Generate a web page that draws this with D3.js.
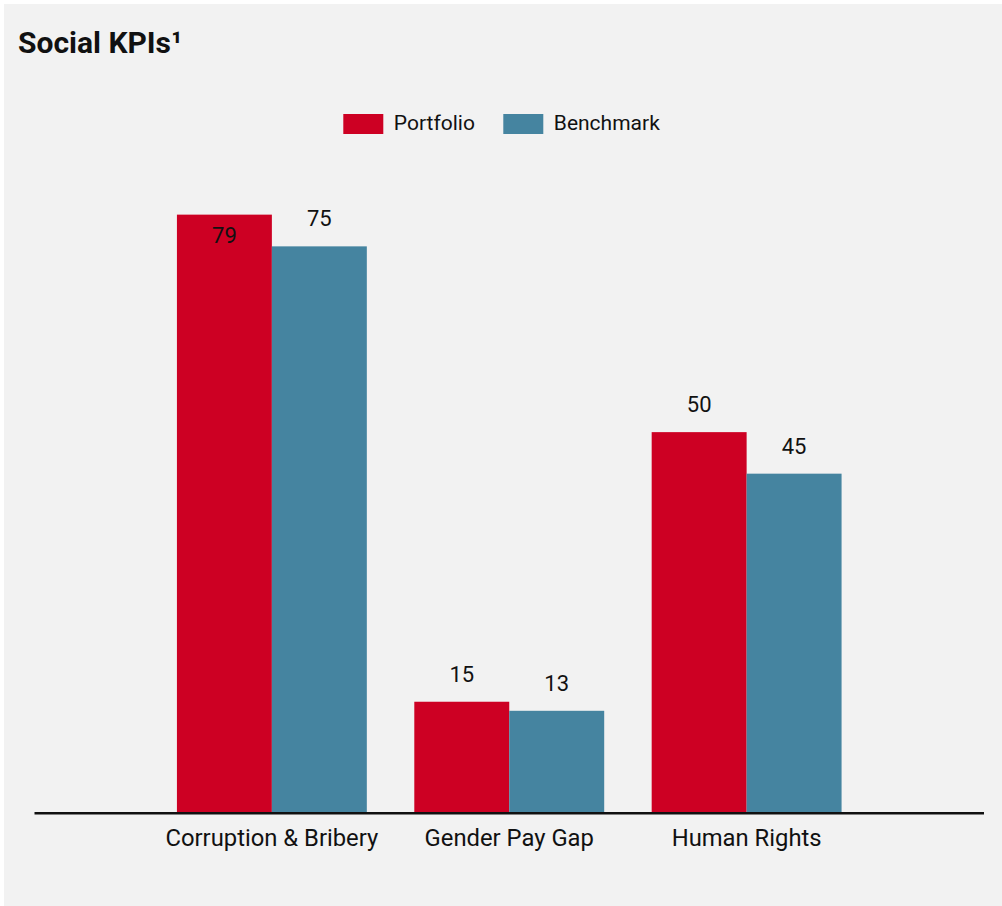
<!DOCTYPE html>
<html>
<head>
<meta charset="utf-8">
<script src="https://cdn.jsdelivr.net/npm/d3@7"></script>
<style>
  html, body { margin: 0; padding: 0; background: #ffffff; }
  svg { display: block; }
  text { font-family: Roboto, "Noto Sans", sans-serif; fill: #111; }
</style>
</head>
<body>
<svg id="chart" width="1002" height="906"></svg>
<script>
const categories = ["Corruption & Bribery", "Gender Pay Gap", "Human Rights"];
const seriesNames = ["Portfolio", "Benchmark"];
const portfolio = [79.1, 14.6, 50.3];
const benchmark = [74.9, 13.4, 44.8];
const seriesColors = ["#cd0023", "#4584a0"];
const titleText = "Social KPIs¹";

const svg = d3.select("#chart");
const W = 1002, H = 906;

svg.append("rect").attr("x", 4).attr("y", 4).attr("width", W - 4).attr("height", H - 4).attr("fill", "#f2f2f2");

svg.append("text").attr("x", 18).attr("y", 53)
  .style("font-size", "30px").style("font-weight", "700").attr("fill", "#000")
  .text(titleText);

const baseY = 812;
const x = d3.scaleBand().domain(categories).range([34.5, 984]).paddingInner(0.2).paddingOuter(0.6);
const xs = d3.scaleBand().domain(seriesNames).range([0, x.bandwidth()]);
const y = d3.scaleLinear().domain([0, 80]).range([baseY, baseY - 80 * 7.552]);
const color = d3.scaleOrdinal().domain(seriesNames).range(seriesColors);

const rows = categories.map((c, i) => ({ cat: c, vals: [
  { s: seriesNames[0], v: portfolio[i] },
  { s: seriesNames[1], v: benchmark[i] }
]}));

const g = svg.append("g");
const groups = g.selectAll("g.grp").data(rows).join("g")
  .attr("transform", d => `translate(${x(d.cat)},0)`);

groups.selectAll("rect").data(d => d.vals).join("rect")
  .attr("x", d => xs(d.s))
  .attr("width", xs.bandwidth())
  .attr("y", d => y(d.v))
  .attr("height", d => y(0) - y(d.v))
  .attr("fill", d => color(d.s));

const fmt = d3.format(".0f");
groups.selectAll("text.val").data(d => d.vals).join("text")
  .attr("class", "val")
  .attr("x", d => xs(d.s) + xs.bandwidth() / 2)
  .attr("y", d => (y(d.v) - 40 < 180) ? y(d.v) + 28 : y(d.v) - 20)
  .attr("text-anchor", "middle")
  .style("font-size", "22px")
  .text(d => fmt(d.v));

// axis
const axis = svg.append("g").attr("transform", `translate(0,${baseY})`)
  .call(d3.axisBottom(x).tickSize(0).tickPadding(0));
axis.select(".domain").attr("stroke", "#111").attr("stroke-width", 2.5)
  .attr("d", `M34.5,1.2H984`);
axis.selectAll(".tick text").attr("y", 34).attr("dy", 0)
  .style("font-size", "23.8px").style("font-family", "Roboto, sans-serif").attr("fill", "#111");

// legend
const legendX = [343.3, 503.3];
const leg = svg.append("g");
const li = leg.selectAll("g").data(seriesNames).join("g")
  .attr("transform", (d, i) => `translate(${legendX[i]},114)`);
li.append("rect").attr("width", 40).attr("height", 20).attr("fill", d => color(d));
li.append("text").attr("x", 50.5).attr("y", 16).style("font-size", "21px").text(d => d);
</script>
</body>
</html>
